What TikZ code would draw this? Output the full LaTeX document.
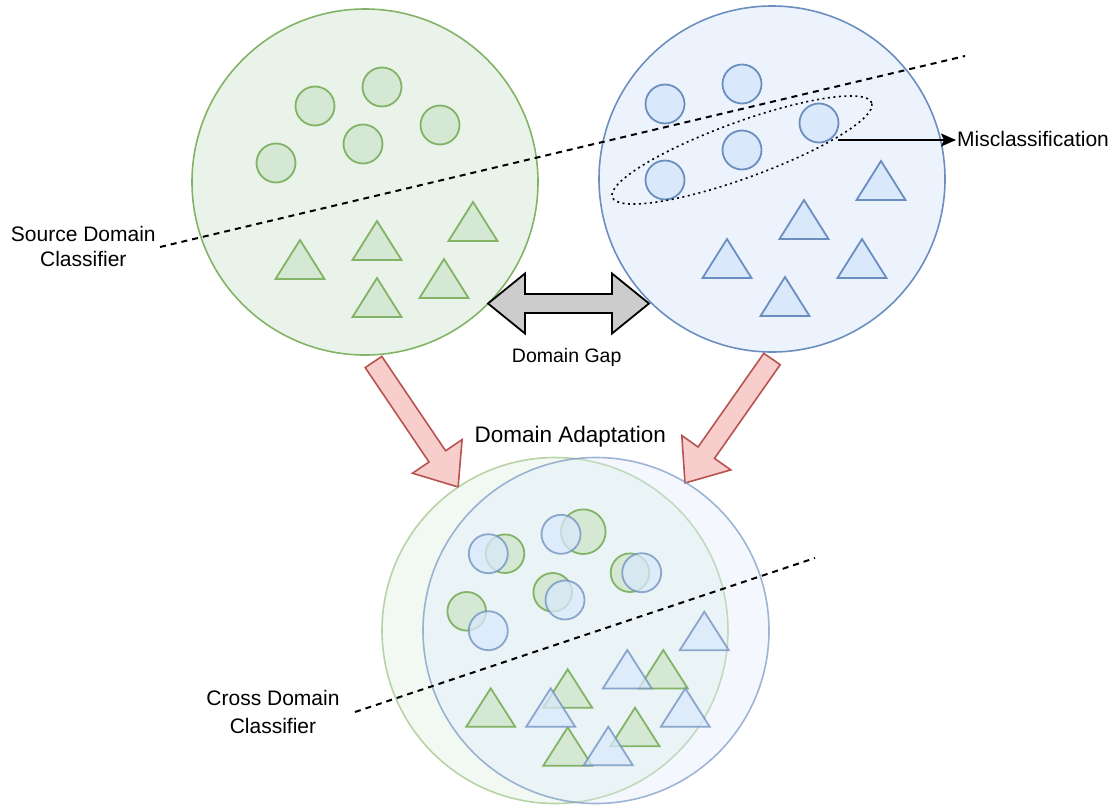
\documentclass[tikz,border=0pt]{standalone}
\usepackage{fontspec}
\setmainfont{Liberation Sans}
\usetikzlibrary{arrows.meta,shapes.geometric}
\definecolor{gfill}{HTML}{D5E8D4}
\definecolor{gline}{HTML}{82B366}
\definecolor{bfill}{HTML}{DAE8FC}
\definecolor{bline}{HTML}{6C8EBF}
\definecolor{rfill}{HTML}{F8CECC}
\definecolor{rline}{HTML}{B85450}
\definecolor{grayfill}{HTML}{CCCCCC}
\begin{document}
\begin{tikzpicture}[x=1pt,y=-1pt,
  bigG/.style={draw=gline, line width=1.6pt, fill=gfill, fill opacity=0.5},
  bigB/.style={draw=bline, line width=1.6pt, fill=bfill, fill opacity=0.5},
  gshape/.style={draw=gline, fill=gfill, line width=1.8pt},
  bshape/.style={draw=bline, fill=bfill, line width=1.8pt},
  bshapeT/.style={bshape, opacity=0.75},
  classline/.style={line width=2pt, dash pattern=on 6pt off 5pt},
  redarrow/.style={draw=rline, fill=rfill, line width=1.6pt, line join=miter},
  gaparrow/.style={draw=black, fill=grayfill, line width=1.8pt, line join=miter},
  lbl/.style={text=black, inner sep=0pt},
  missarrow/.style={line width=1.6pt, -{Stealth[length=15pt,width=13pt,inset=3pt]}},
]
\useasboundingbox (0,0) rectangle (1114,806);

% ---------- source domain ----------
\draw[bigG] (365,182) circle[radius=173];
\foreach \x/\y in {315/106, 382/87, 440/125, 363/144, 276/163}
  \draw[gshape] (\x,\y) circle[radius=19.5];
\foreach \x/\y in {300/240, 377/221, 473/202, 444/259, 377/278}
  \draw[gshape] (\x,\y) -- ++(24.5,39) -- ++(-49,0) -- cycle;

% ---------- target domain ----------
\draw[bigB] (772,179) circle[radius=173];
\foreach \x/\y in {665/104, 742/84, 742/150, 665/180, 819/123}
  \draw[bshape] (\x,\y) circle[radius=19.5];
\foreach \x/\y in {881/161, 804/200, 727/239, 862/239, 785/277}
  \draw[bshape] (\x,\y) -- ++(24.5,39) -- ++(-49,0) -- cycle;

% source classifier
\coordinate (s1) at (160,247);
\coordinate (s2) at (965,56);
\draw[classline] (s1) -- (s2);

% misclassified region
\node[draw, ellipse, line width=1.6pt, dash pattern=on 2pt off 3.5pt,
      minimum width=276pt, minimum height=56pt, inner sep=0pt, rotate=20]
      (zone) at (742,150) {};
\coordinate (mstart) at (838,140);
\node[lbl, inner sep=1pt, anchor=base west, font=\fontsize{21}{25}\selectfont]
      (mis) at (956,146.7) {Misclassification};
\draw[missarrow] (mstart) -- (mstart -| mis.west);

% labels
\node[lbl, align=center, font=\fontsize{21}{25}\selectfont] (src) at (83.3,246.4)
      {Source Domain\\Classifier};
\node[lbl, anchor=base, font=\fontsize{19.5}{24}\selectfont] (gap) at (566.7,362.7) {Domain Gap};
\node[lbl, anchor=base, font=\fontsize{22.5}{27}\selectfont] (da) at (570.3,442.7) {Domain Adaptation};
\node[lbl, align=center, font=\fontsize{21}{28.3}\selectfont] (cross) at (273,712.3)
      {Cross Domain\\Classifier};

% domain gap double arrow
\draw[gaparrow] (488,303.5) -- (525,273.5) -- (525,294) -- (612,294) -- (612,273.5)
   -- (649,303.5) -- (612,333.5) -- (612,313) -- (525,313) -- (525,333.5) -- cycle;

% adaptation arrows
\draw[redarrow] (381.8,356.4) -- (445.6,450.8) -- (462.1,439.6) -- (458.1,487)
   -- (412.5,473.2) -- (429.0,462.0) -- (365.2,367.6) -- cycle;
\draw[redarrow] (763.8,353.3) -- (698.1,447.0) -- (681.8,435.5) -- (685,483)
   -- (730.8,469.9) -- (714.5,458.4) -- (780.2,364.7) -- cycle;

% ---------- adapted domain ----------
\draw[draw=gline, draw opacity=0.55, fill=gfill, fill opacity=0.3, line width=1.6pt]
   (555,630.5) circle[radius=173];
\draw[draw=bline, draw opacity=0.65, fill=bfill, fill opacity=0.3, line width=1.6pt]
   (596,630.5) circle[radius=173];

\foreach \x/\y/\r in {505/553.7/19.3, 583.3/531.7/22.3, 630/572.7/19.3, 552.7/592.3/19.3, 466.7/611.3/19.3}
  \draw[gshape] (\x,\y) circle[radius=\r];
\foreach \x/\y in {490.7/688.3, 567.7/669.3, 663.3/650, 635/707.7, 567.7/727.3}
  \draw[gshape] (\x,\y) -- ++(24.5,38.5) -- ++(-49,0) -- cycle;
\foreach \x/\y in {488.3/553.7, 561/534.3, 641.7/572.7, 565/600, 488.3/630.7}
  \draw[bshapeT] (\x,\y) circle[radius=19.5];
\foreach \x/\y in {704.3/611.7, 627.3/650, 550.7/688.3, 685.3/688.3, 608.3/726.7}
  \draw[bshapeT] (\x,\y) -- ++(24.5,38.5) -- ++(-49,0) -- cycle;

% cross domain classifier
\coordinate (c1) at (355,712);
\coordinate (c2) at (815,558);
\draw[classline] (c1) -- (c2);
\end{tikzpicture}
\end{document}
